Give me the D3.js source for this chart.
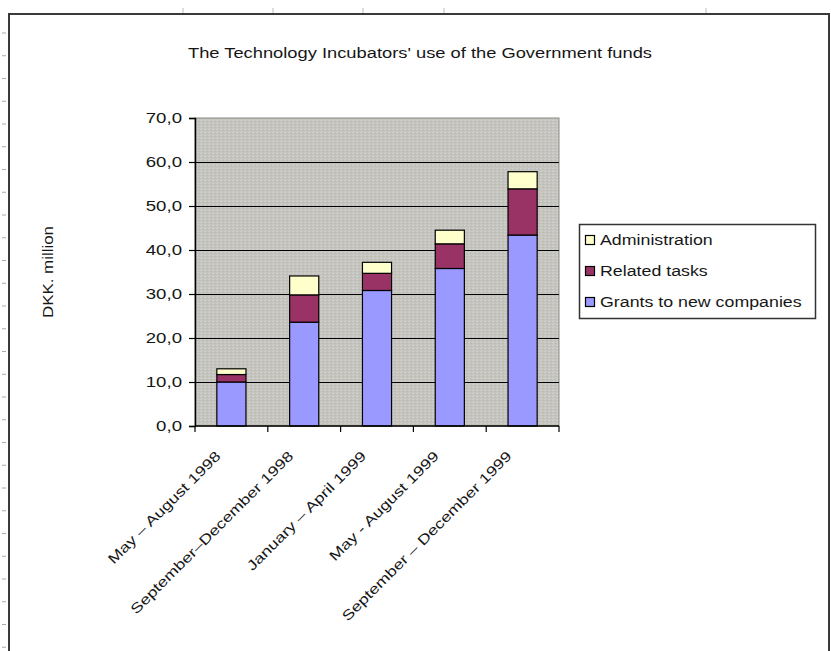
<!DOCTYPE html>
<html>
<head>
<meta charset="utf-8">
<script src="https://cdn.jsdelivr.net/npm/d3@7"></script>
<style>
  html, body { margin: 0; padding: 0; background: #fff; }
  svg { display: block; }
  text { font-family: "Liberation Sans", Arial, sans-serif; fill: #161616; }
</style>
</head>
<body>
<svg id="chart" width="831" height="651"></svg>
<script>
// ---- data ----
const categories = [
  "May – August 1998",
  "September–December 1998",
  "January – April 1999",
  "May - August 1999",
  "September – December 1999"
];
const seriesNames = ["Grants to new companies", "Related tasks", "Administration"];
const grants = [10.0, 23.6, 30.8, 35.8, 43.4];
const related = [1.7, 6.2, 3.9, 5.6, 10.5];
const admin = [1.3, 4.3, 2.5, 3.1, 3.9];
const yTicks = [0, 10, 20, 30, 40, 50, 60, 70];
const titleText = "The Technology Incubators' use of the Government funds";
const yTitle = "DKK. million";

// ---- layout ----
const svg = d3.select("#chart");
const plot = { left: 195, right: 559, top: 118, bottom: 426 };
const colors = {
  "Grants to new companies": "#9999ff",
  "Related tasks": "#993366",
  "Administration": "#ffffcc"
};

function stretch(sel, f) {
  sel.each(function () {
    const w = this.getComputedTextLength();
    this.setAttribute("textLength", w * f);
    this.setAttribute("lengthAdjust", "spacingAndGlyphs");
  });
}

// decorative spreadsheet remnants
const deco = svg.append("g");
d3.range(33, 651, 22.75).forEach(yy => {
  deco.append("line").attr("x1", 2).attr("x2", 6).attr("y1", yy).attr("y2", yy)
    .attr("stroke", "#aaa").attr("stroke-width", 1);
});
[183, 273, 363, 444, 706].forEach(xx => {
  deco.append("line").attr("x1", xx).attr("x2", xx).attr("y1", 8).attr("y2", 13)
    .attr("stroke", "#bbb").attr("stroke-width", 1);
});
// outer chart border
svg.append("path")
  .attr("d", "M9,660 L9,14 L829,14 L829,660")
  .attr("fill", "none").attr("stroke", "#3a3a3a").attr("stroke-width", 2);

// pattern for plot background
const defs = svg.append("defs");
const pat = defs.append("pattern").attr("id", "bgpat")
  .attr("width", 4).attr("height", 3).attr("patternUnits", "userSpaceOnUse");
pat.append("rect").attr("width", 4).attr("height", 3).attr("fill", "#c4c4bc");
pat.append("rect").attr("x", 0).attr("y", 0).attr("width", 2).attr("height", 1).attr("fill", "#cfcdd6");
pat.append("rect").attr("x", 2).attr("y", 1).attr("width", 2).attr("height", 1).attr("fill", "#bdbdb2");
pat.append("rect").attr("x", 1).attr("y", 2).attr("width", 2).attr("height", 1).attr("fill", "#cacac4");

// scales
const x = d3.scaleBand().domain(categories).range([plot.left, plot.right]).paddingInner(0.6).paddingOuter(0.3);
const xb = d3.scaleBand().domain(categories).range([plot.left, plot.right]);
const y = d3.scaleLinear().domain([0, 70]).range([plot.bottom, plot.top]);

// plot area
svg.append("rect")
  .attr("x", plot.left).attr("y", plot.top)
  .attr("width", plot.right - plot.left).attr("height", plot.bottom - plot.top)
  .attr("fill", "url(#bgpat)").attr("stroke", "#8a8a8a").attr("stroke-width", 1);

// gridlines
svg.append("g").selectAll("line")
  .data(yTicks.filter(d => d > 0 && d < 70))
  .join("line")
  .attr("x1", plot.left).attr("x2", plot.right)
  .attr("y1", d => Math.round(y(d)) + 0.5).attr("y2", d => Math.round(y(d)) + 0.5)
  .attr("stroke", "#000").attr("stroke-width", 1.2);

// stacked bars
const table = categories.map((c, i) => ({
  cat: c,
  "Grants to new companies": grants[i],
  "Related tasks": related[i],
  "Administration": admin[i]
}));
const stack = d3.stack().keys(seriesNames)(table);
svg.append("g").selectAll("g")
  .data(stack)
  .join("g")
  .attr("fill", d => colors[d.key])
  .selectAll("rect")
  .data(d => d)
  .join("rect")
  .attr("x", d => x(d.data.cat))
  .attr("width", x.bandwidth())
  .attr("y", d => y(d[1]))
  .attr("height", d => y(d[0]) - y(d[1]))
  .attr("stroke", "#000").attr("stroke-width", 1.2);

// y axis
const yAxis = svg.append("g")
  .attr("transform", `translate(${plot.left},0)`)
  .call(d3.axisLeft(y).tickValues(yTicks).tickSize(6).tickPadding(7)
    .tickFormat(d => d3.format(".1f")(d).replace(".", ",")));
yAxis.select(".domain").attr("stroke", "#000").attr("stroke-width", 1.5);
yAxis.selectAll(".tick line").attr("stroke", "#000").attr("stroke-width", 1.2);
yAxis.selectAll("text").style("font-size", "14px").attr("fill", "#161616")
  .attr("font-family", "Liberation Sans, Arial, sans-serif");
stretch(yAxis.selectAll("text"), 1.33);

// x axis
const xAxisG = svg.append("g").attr("transform", `translate(0,${plot.bottom})`);
xAxisG.append("line").attr("x1", plot.left).attr("x2", plot.right)
  .attr("y1", 0).attr("y2", 0).attr("stroke", "#000").attr("stroke-width", 1.5);
const boundaries = categories.map(c => xb(c)).concat([plot.right]);
xAxisG.selectAll("line.tk").data(boundaries).join("line").attr("class", "tk")
  .attr("x1", d => d).attr("x2", d => d).attr("y1", 0).attr("y2", 6)
  .attr("stroke", "#000").attr("stroke-width", 1.2);
const xl = xAxisG.selectAll("text").data(categories).join("text")
  .attr("transform", d => `translate(${xb(d) + xb.bandwidth() / 2 - 10},31) rotate(-45)`)
  .attr("text-anchor", "end")
  .style("font-size", "14px")
  .text(d => d);
stretch(xl, 1.27);

// title
svg.append("text")
  .attr("x", 420).attr("y", 58).attr("text-anchor", "middle")
  .style("font-size", "14px")
  .attr("textLength", 464).attr("lengthAdjust", "spacingAndGlyphs")
  .text(titleText);

// y title
svg.append("text")
  .attr("transform", "translate(53,272) rotate(-90)")
  .attr("text-anchor", "middle")
  .style("font-size", "14px")
  .attr("textLength", 92).attr("lengthAdjust", "spacingAndGlyphs")
  .text(yTitle);

// legend
const lg = svg.append("g");
lg.append("rect").attr("x", 579.5).attr("y", 224.5).attr("width", 236).attr("height", 94)
  .attr("fill", "#fff").attr("stroke", "#333").attr("stroke-width", 1.5);
const legendOrder = ["Administration", "Related tasks", "Grants to new companies"];
const rows = lg.selectAll("g.row").data(legendOrder).join("g").attr("class", "row")
  .attr("transform", (d, i) => `translate(0,${240 + i * 31})`);
rows.append("rect").attr("x", 585.5).attr("y", -4.5).attr("width", 9).attr("height", 9)
  .attr("fill", d => colors[d]).attr("stroke", "#000").attr("stroke-width", 1.2);
const lt = rows.append("text").attr("x", 600).attr("y", 5).style("font-size", "14px").text(d => d);
stretch(lt, 1.27);
</script>
</body>
</html>
